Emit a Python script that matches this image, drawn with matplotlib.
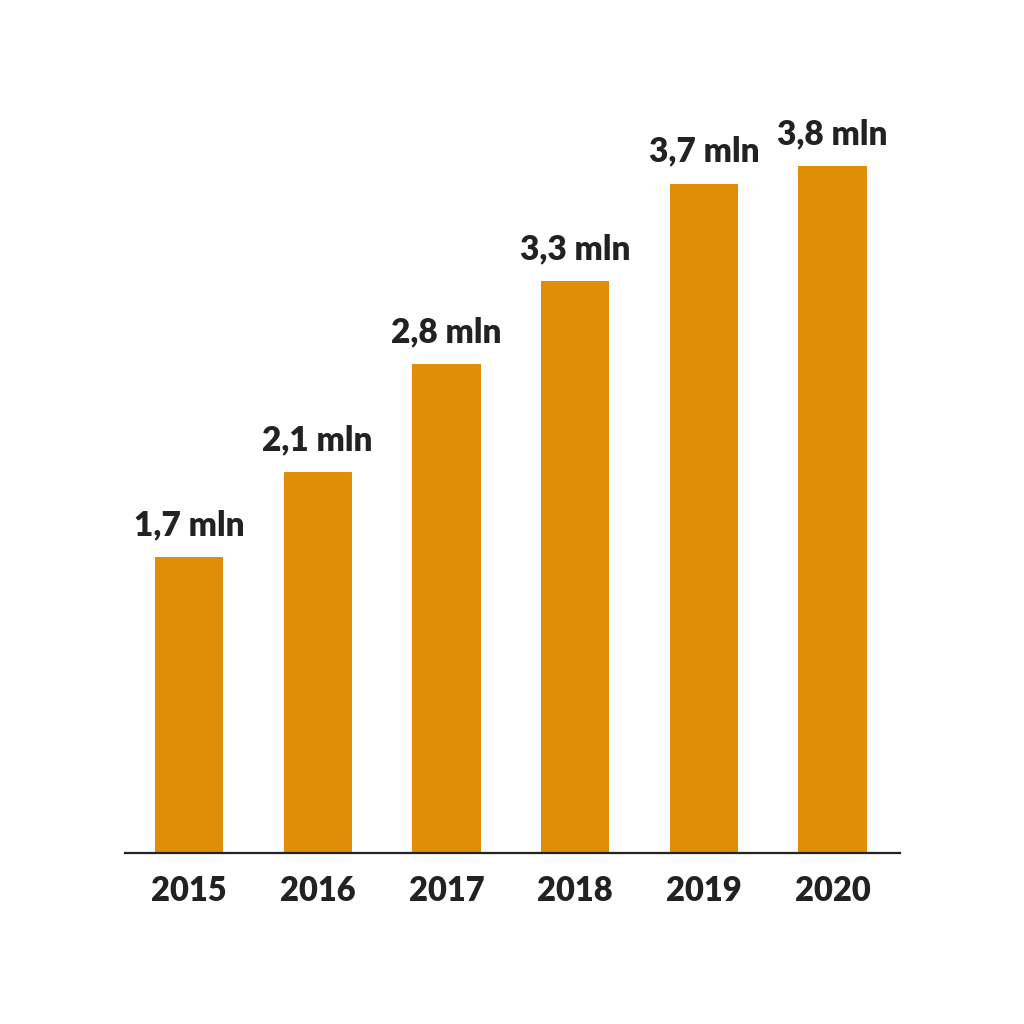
import matplotlib
matplotlib.use('Agg')
import matplotlib.pyplot as plt

years = ['2015', '2016', '2017', '2018', '2019', '2020']
# bar heights (millions)
values = [1.67, 2.15, 2.76, 3.23, 3.78, 3.88]
labels = ['1,7 mln', '2,1 mln', '2,8 mln', '3,3 mln', '3,7 mln', '3,8 mln']

bar_color = '#E08E05'
text_color = '#222222'

plt.rcParams['font.family'] = ['Lato', 'DejaVu Sans']

fig = plt.figure(figsize=(10.24, 10.24), dpi=100)
ax = fig.add_axes([125 / 1024, 171 / 1024, 775 / 1024, 753 / 1024])

x = range(len(years))
ax.bar(x, values, width=0.53, color=bar_color)

# value labels above each bar
for xi, v, lab in zip(x, values, labels):
    ax.annotate(lab, (xi, v), xytext=(0, 16), textcoords='offset points',
                ha='center', va='baseline', fontsize=24, fontweight='heavy',
                color=text_color)

ax.set_xlim(-0.497, 5.524)
ax.set_ylim(0, 753 / 177)
ax.set_xticks(list(x))
ax.set_xticklabels(years, fontsize=23.5, fontweight='heavy', color=text_color)
ax.tick_params(axis='x', length=0, pad=16)
ax.set_yticks([])

for side in ['top', 'right', 'left']:
    ax.spines[side].set_visible(False)
ax.spines['bottom'].set_linewidth(1.6)
ax.spines['bottom'].set_color(text_color)

fig.savefig('out.png', dpi=100, facecolor='white')
